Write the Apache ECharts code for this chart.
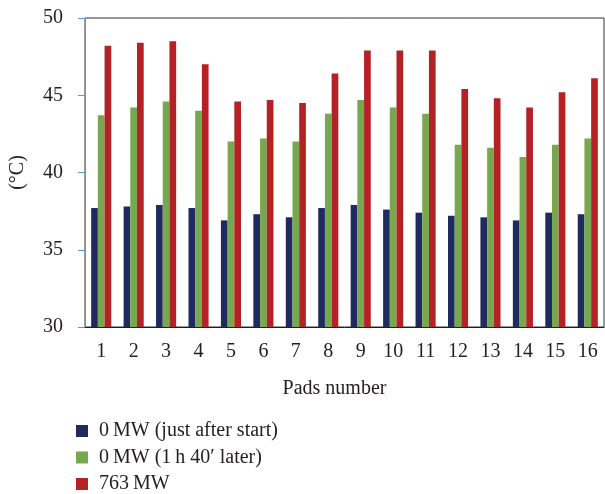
<!DOCTYPE html>
<html>
<head>
<meta charset="utf-8">
<script src="https://cdn.jsdelivr.net/npm/echarts@6/dist/echarts.min.js"></script>
<style>
  html, body { margin: 0; padding: 0; background: #fff; }
  #chart { width: 605px; height: 494px; }
</style>
</head>
<body>
<div id="chart"></div>
<script>
// Pad temperatures (°C) for three operating conditions
const pads = ['1','2','3','4','5','6','7','8','9','10','11','12','13','14','15','16'];
const justAfterStart = [37.7, 37.8, 37.9, 37.7, 36.9, 37.3, 37.1, 37.7, 37.9, 37.6, 37.4, 37.2, 37.1, 36.9, 37.4, 37.3];
const later1h40 = [43.7, 44.2, 44.6, 44.0, 42.0, 42.2, 42.0, 43.8, 44.7, 44.2, 43.8, 41.8, 41.6, 41.0, 41.8, 42.2];
const fullLoad = [48.2, 48.4, 48.5, 47.0, 44.6, 44.7, 44.5, 46.4, 47.9, 47.9, 47.9, 45.4, 44.8, 44.2, 45.2, 46.1];
const seriesNames = ['0\u2009MW (just after start)', '0\u2009MW (1\u2009h 40\u2032 later)', '763\u2009MW'];
const colors = ['#1f2a5e', '#77a84f', '#b42226'];

const font = 'Liberation Serif';
const chart = echarts.init(document.getElementById('chart'), null, { renderer: 'canvas' });

const values = [justAfterStart, later1h40, fullLoad];

chart.setOption({
  animation: false,
  color: colors,
  textStyle: { fontFamily: font, color: '#231f20' },
  grid: {
    left: 77, right: 1, top: 18, bottom: 167,
    show: true, borderColor: '#333', borderWidth: 1, backgroundColor: 'transparent'
  },
  legend: {
    orient: 'vertical',
    left: 76, top: 421,
    padding: 0,
    height: 80,
    itemWidth: 12, itemHeight: 12, itemGap: 6.5,
    icon: 'rect',
    textStyle: { fontFamily: font, fontSize: 20, color: '#231f20', lineHeight: 20, padding: [0, 0, 0, 6] },
    data: seriesNames
  },
  xAxis: {
    type: 'category',
    data: pads,
    name: 'Pads number',
    nameLocation: 'middle',
    nameGap: 52,
    nameTextStyle: { fontFamily: font, fontSize: 20, color: '#231f20', padding: [0, 20, 0, 0] },
    axisLine: { lineStyle: { color: '#231f20', width: 1 } },
    axisTick: { show: false },
    axisLabel: { fontFamily: font, fontSize: 20, color: '#231f20', margin: 15 }
  },
  yAxis: {
    type: 'value',
    min: 30, max: 50, interval: 5,
    name: '(\u00B0C)',
    nameLocation: 'middle',
    nameGap: 57,
    nameRotate: 90,
    nameTextStyle: { fontFamily: font, fontSize: 20, color: '#231f20' },
    axisLine: { show: true, lineStyle: { color: '#5b9bd5', width: 1 } },
    axisTick: { show: true, length: 7, lineStyle: { color: '#5b9bd5' } },
    axisLabel: { fontFamily: font, fontSize: 20, color: '#231f20', margin: 22 },
    splitLine: { show: false }
  },
  series: values.map((v, i) => ({
    name: seriesNames[i],
    type: 'bar',
    data: v,
    barGap: '0%',
    barWidth: 6.7,
    itemStyle: { color: colors[i] }
  }))
});
</script>
</body>
</html>
